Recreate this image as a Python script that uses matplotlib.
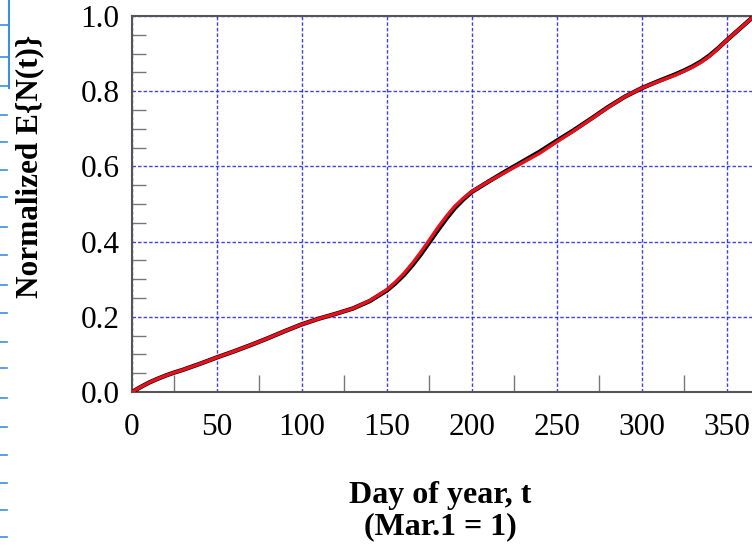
import matplotlib
matplotlib.use("Agg")
import matplotlib.pyplot as plt
from matplotlib.lines import Line2D
from matplotlib.ticker import MultipleLocator

plt.rcParams['font.family'] = ['Liberation Serif', 'DejaVu Serif']

# day of year (Mar.1 = 1) and normalized expected count
days = [0, 5, 10, 15, 20, 25, 30, 40, 50, 60, 70, 80, 90, 100, 110, 120, 130,
        140, 150, 155, 160, 165, 170, 175, 180, 185, 190, 195, 200, 210, 220,
        230, 240, 250, 260, 270, 280, 290, 300, 310, 320, 325, 330, 335, 340,
        345, 350, 355, 360, 365]
fit_red = [0.0, 0.013, 0.025, 0.035, 0.044, 0.052, 0.059, 0.075, 0.092, 0.108,
           0.125, 0.143, 0.162, 0.180, 0.195, 0.208, 0.222, 0.243, 0.272, 0.292,
           0.315, 0.342, 0.372, 0.404, 0.437, 0.467, 0.494, 0.515, 0.533, 0.560,
           0.585, 0.610, 0.635, 0.665, 0.694, 0.725, 0.756, 0.785, 0.808, 0.826,
           0.843, 0.853, 0.864, 0.877, 0.893, 0.913, 0.935, 0.955, 0.975, 0.995]
obs_black = [0.0, 0.013, 0.025, 0.035, 0.044, 0.052, 0.059, 0.075, 0.092, 0.108,
             0.125, 0.143, 0.162, 0.180, 0.195, 0.208, 0.222, 0.242, 0.270, 0.289,
             0.311, 0.337, 0.366, 0.398, 0.430, 0.461, 0.489, 0.512, 0.532, 0.560,
             0.587, 0.613, 0.639, 0.668, 0.696, 0.726, 0.757, 0.785, 0.808, 0.827,
             0.845, 0.855, 0.866, 0.879, 0.895, 0.914, 0.935, 0.955, 0.975, 0.995]

W, H = 752, 547
fig = plt.figure(figsize=(W / 100, H / 100), dpi=100)
ax = fig.add_axes([132 / W, 1 - 392 / H, 1 - 132 / W, (392 - 16) / H])

ax.plot(days, obs_black, color='black', lw=3.2, zorder=3)
ax.plot(days, fit_red, color='#e8101c', lw=2.4, zorder=4)

ax.set_xlim(0, 365)
ax.set_ylim(0, 1.0)
ax.xaxis.set_major_locator(MultipleLocator(50))
ax.xaxis.set_minor_locator(MultipleLocator(25))
ax.yaxis.set_major_locator(MultipleLocator(0.2))
ax.yaxis.set_minor_locator(MultipleLocator(0.05))
ax.yaxis.set_major_formatter(plt.FormatStrFormatter('%.1f'))

ax.grid(True, which='major', color='#2020e0', lw=1.0, ls=(0, (2.5, 1.5)), alpha=0.85)
ax.tick_params(which='major', direction='in', length=0, labelsize=22.5, pad=9,
               colors='#555555', labelcolor='black')
ax.tick_params(axis='x', which='major', pad=15)
ax.tick_params(which='minor', direction='in', length=10, width=1.0, colors='#777777')
ax.tick_params(axis='x', which='minor', length=12)
for side in ['left', 'bottom', 'top']:
    ax.spines[side].set_color('#555555')
    ax.spines[side].set_linewidth(1.5)
ax.spines['right'].set_visible(False)

fig.text(30 / W, 1 - 166 / H, 'Normalized E{N(t)}', rotation=90, fontsize=22.5,
         fontweight='bold', ha='center', va='center')
fig.text(440 / W, 1 - 495 / H, 'Day of year, t', fontsize=23,
         fontweight='bold', ha='center', va='center')
fig.text(440 / W, 1 - 527 / H, '(Mar.1 = 1)', fontsize=23,
         fontweight='bold', ha='center', va='center')

# edge of the neighbouring panel on the left
edge = '#3a8fe0'
fig.add_artist(Line2D([9 / W, 9 / W], [1.0, 1 - 88 / H], color=edge, lw=1.5))
for yp in [25, 57, 86, 115, 142, 170, 197, 227, 255, 285, 313, 342, 368, 398,
           427, 455, 483, 510, 537]:
    x1 = 9 if yp < 90 else 7
    fig.add_artist(Line2D([0, x1 / W], [1 - yp / H, 1 - yp / H], color=edge, lw=1.2))

fig.savefig('out.png', dpi=100)
